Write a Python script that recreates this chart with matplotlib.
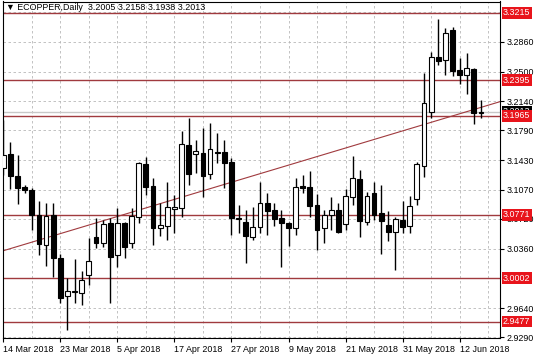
import matplotlib.pyplot as plt
import matplotlib.transforms as mtransforms
import numpy as np

plt.rcParams['font.family'] = ['Liberation Sans', 'DejaVu Sans']

# daily OHLC, ECOPPER, 14 Mar 2018 .. 14 Jun 2018
opens = [3.1335, 3.1505, 3.1238, 3.1105, 3.1069, 3.0766, 3.0403, 3.0766, 3.0246, 2.9786,
         2.9834, 2.9822, 3.0040, 3.0500, 3.0428, 3.0670, 3.0282, 3.0670, 3.0428, 3.0742,
         3.1384, 3.1117, 3.0609, 3.0633, 3.0839, 3.0851, 3.1614, 3.1505, 3.1517, 3.1263,
         3.1529, 3.1529, 3.1408, 3.0730, 3.0682, 3.0500, 3.0621, 3.0912, 3.0827, 3.0730,
         3.0670, 3.0609, 3.1117, 3.1105, 3.0887, 3.0609, 3.0766, 3.0827, 3.0657, 3.0984,
         3.1202, 3.0682, 3.1033, 3.0791, 3.0645, 3.0561, 3.0706, 3.0633, 3.0960, 3.1359,
         3.2013, 3.2678, 3.2642, 3.3005, 3.2521, 3.2461, 3.2533, 3.2005]
highs = [3.1916, 3.1650, 3.1492, 3.1129, 3.1093, 3.0936, 3.0912, 3.0912, 3.0294, 3.0004,
         3.0234, 3.0089, 3.0488, 3.0730, 3.0706, 3.0730, 3.0851, 3.0682, 3.0851, 3.1408,
         3.1468, 3.1214, 3.0912, 3.1166, 3.1008, 3.1783, 3.1940, 3.1674, 3.1819, 3.1880,
         3.1759, 3.1674, 3.1456, 3.0887, 3.0827, 3.0863, 3.1166, 3.1033, 3.0912, 3.0827,
         3.0682, 3.1214, 3.1250, 3.1299, 3.1020, 3.0827, 3.0984, 3.0912, 3.1081, 3.1480,
         3.1311, 3.1045, 3.1166, 3.1129, 3.0815, 3.0742, 3.0936, 3.0996, 3.1408, 3.2485,
         3.2739, 3.3138, 3.3029, 3.3042, 3.2666, 3.2727, 3.2545, 3.2158]
lows = [3.1250, 3.1081, 3.0900, 3.1033, 3.0585, 3.0282, 3.0149, 3.0016, 2.9701, 2.9375,
        2.9701, 2.9677, 2.9919, 3.0367, 3.0379, 2.9701, 3.0137, 3.0246, 3.0367, 3.0670,
        3.1008, 3.0403, 3.0512, 3.0464, 3.0549, 3.0742, 3.1129, 3.1275, 3.0984, 3.1202,
        3.1396, 3.1093, 3.0524, 3.0549, 3.0186, 3.0464, 3.0549, 3.0524, 3.0633, 3.0137,
        3.0391, 3.0524, 3.1033, 3.0742, 3.0343, 3.0428, 3.0585, 3.0549, 3.0585, 3.0887,
        3.0500, 3.0645, 3.0706, 3.0294, 3.0452, 3.0101, 3.0549, 3.0549, 3.0887, 3.1226,
        3.1940, 3.2582, 3.2461, 3.2449, 3.2352, 3.2231, 3.1868, 3.1938]
closes = [3.1492, 3.1238, 3.1093, 3.1069, 3.0766, 3.0415, 3.0754, 3.0246, 2.9762, 2.9847,
          2.9847, 2.9980, 3.0210, 3.0428, 3.0657, 3.0258, 3.0670, 3.0379, 3.0754, 3.1396,
          3.1105, 3.0609, 3.0645, 3.0863, 3.0863, 3.1626, 3.1263, 3.1541, 3.1238, 3.1565,
          3.1517, 3.1396, 3.0730, 3.0718, 3.0512, 3.0621, 3.0912, 3.0815, 3.0718, 3.0670,
          3.0609, 3.1105, 3.1093, 3.0875, 3.0585, 3.0766, 3.0827, 3.0561, 3.0996, 3.1214,
          3.0694, 3.0996, 3.0766, 3.0694, 3.0561, 3.0718, 3.0621, 3.0875, 3.1384, 3.2122,
          3.2678, 3.2630, 3.2969, 3.2509, 3.2461, 3.2545, 3.2001, 3.2013]

date_labels = ['14 Mar 2018', '23 Mar 2018', '5 Apr 2018', '17 Apr 2018', '27 Apr 2018',
               '9 May 2018', '21 May 2018', '31 May 2018', '12 Jun 2018']
levels = [3.3215, 3.2395, 3.1965, 3.0771, 3.0002, 2.9477]
price_ticks = [3.2860, 3.2500, 3.2140, 3.1790, 3.1430, 3.1070, 3.0720, 3.0360, 2.9640, 2.9290]
grid_prices = [3.3220, 3.2860, 3.2500, 3.2140, 3.1790, 3.1430, 3.1070, 3.0720, 3.0360,
               3.0000, 2.9640, 2.9290]
trend_bars = [0, 67]
trend_prices = [3.0334, 3.2069]
last_price = 3.2013

opens = np.array(opens)
closes = np.array(closes)
x = np.arange(len(opens))

fig = plt.figure(figsize=(5.36, 3.57), dpi=100)
ax = fig.add_axes([2.5 / 536, 1 - 338 / 357, 497.5 / 536, 336.5 / 357])

# grid
grid_kw = dict(color='#b8b8b8', lw=0.6, ls=(0, (3, 3)), zorder=0)
for gp in grid_prices:
    ax.axhline(gp, **grid_kw)
for b in range(0, 72, 4):
    ax.axvline(b, **grid_kw)

# levels and lines
ax.axhline(last_price, color='#c8c8c8', lw=1.0, zorder=1)
for lv in levels:
    ax.axhline(lv, color='#a03a3e', lw=1.0, zorder=1)
ax.axline((trend_bars[0], trend_prices[0]), (trend_bars[1], trend_prices[1]),
          color='#a03a3e', lw=0.8, zorder=1)

# candles
up = closes >= opens
ax.vlines(x, lows, highs, color='black', lw=1.0, zorder=2)
ax.bar(x, np.abs(closes - opens), bottom=np.minimum(opens, closes), width=0.68,
       color=np.where(up, 'white', 'black'), edgecolor='black', lw=0.8, zorder=3)

ax.set_xlim(-0.11, 69.66)
ax.set_ylim(2.9278, 3.3350)

ax.set_xticks(range(0, 72, 8))
ax.set_xticklabels(date_labels, ha='left', fontsize=6.4)
ax.yaxis.tick_right()
ax.set_yticks(price_ticks)
ax.set_yticklabels([f'{p:.4f}' for p in price_ticks], fontsize=6.4)
ax.tick_params(axis='both', length=3, width=0.8, color='black', pad=2)
ax.tick_params(axis='x', pad=2)
for sp in ax.spines.values():
    sp.set_color('black')
    sp.set_linewidth(0.8)

trans = mtransforms.blended_transform_factory(ax.transAxes, ax.transData)
ax.text(1.006, last_price + 0.0006, f'{last_price:.4f}', transform=trans, color='white',
        fontsize=6.4, va='center', ha='left', clip_on=False, zorder=5,
        bbox=dict(facecolor='black', edgecolor='none', pad=1.0))
for lv in levels:
    ax.text(1.006, lv, f'{lv:.4f}', transform=trans, color='white', fontsize=6.4,
            va='center', ha='left', clip_on=False, zorder=6,
            bbox=dict(facecolor='#e8141b', edgecolor='none', pad=1.0))

fig.text(6 / 536, 1 - 8 / 357, '\u25bc ECOPPER,Daily  3.2005 3.2158 3.1938 3.2013',
         fontsize=6.4, va='center', ha='left')

fig.savefig('out.png', dpi=100)
